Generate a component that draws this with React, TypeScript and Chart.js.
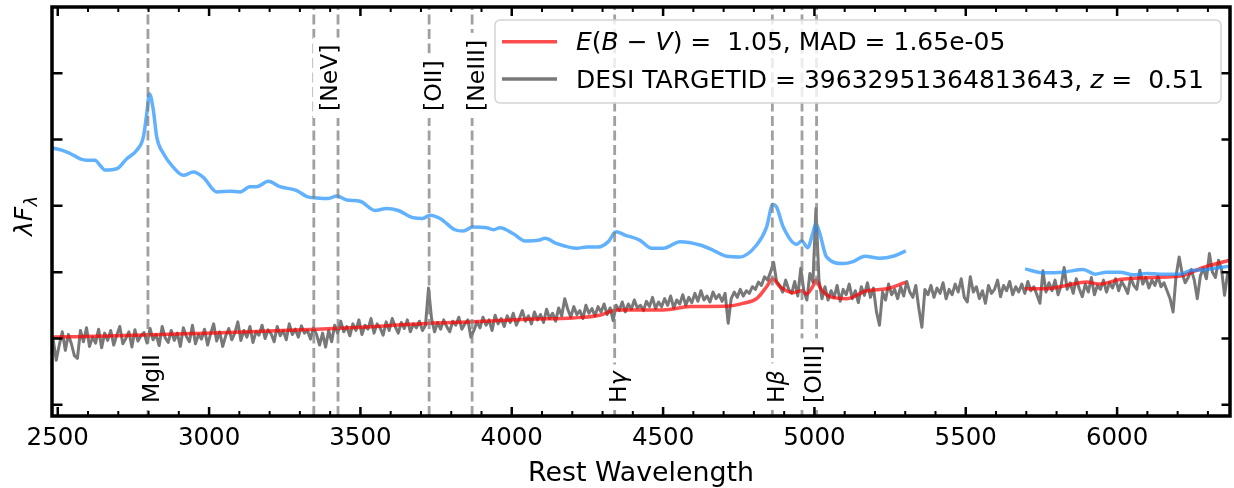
import React, { useEffect, useRef } from "react";
import { Chart, registerables } from "chart.js";

Chart.register(...registerables);

// ---------------- data ----------------
const X_MIN = 2481;
const X_MAX = 6373;
const Y_MIN = -0.17;
const Y_MAX = 6.0;

const X_MAJOR_TICKS = [2500, 3000, 3500, 4000, 4500, 5000, 5500, 6000];
const X_TICK_LABELS = ["2500", "3000", "3500", "4000", "4500", "5000", "5500", "6000"];
const X_MINOR_STEP = 100;
const Y_TICKS = [0, 1, 2, 3, 4, 5];

// emission lines (rest wavelength, Angstrom)
const LINE_WAVES = [2798, 3346, 3426, 3727, 3869, 4340, 4861, 4959, 5007];
const LABEL_WAVES = [2798, 3386, 3727, 3869, 4340, 4861, 4983];
const LABEL_SIDES = ["bottom", "top", "top", "top", "bottom", "bottom", "bottom"];
const LABEL_TEXTS: { t: string; it?: boolean }[][] = [
  [{ t: "MgII" }],
  [{ t: "[NeV]" }],
  [{ t: "[OII]" }],
  [{ t: "[NeIII]" }],
  [{ t: "H" }, { t: "γ", it: true }],
  [{ t: "H" }, { t: "β", it: true }],
  [{ t: "[OIII]" }],
];

// DESI spectrum (gray), regular 10 A grid
const GRAY_START = 2485;
const GRAY_STEP = 10;
const GRAY_FLUX = [
  0.98, 0.67, 0.90, 1.10, 0.82, 1.06, 0.92, 0.74, 0.70, 1.12,
  0.95, 1.16, 0.88, 1.02, 0.93, 1.14, 0.86, 1.08, 0.97, 1.12,
  0.90, 1.05, 1.18, 0.92, 1.00, 1.10, 0.87, 1.13, 0.96, 1.04,
  1.09, 0.93, 1.15, 0.98, 1.06, 0.89, 1.18, 1.01, 0.94, 1.12,
  0.97, 1.08, 0.88, 1.16, 1.03, 0.95, 1.20, 0.92, 1.06, 0.99,
  1.14, 0.90, 1.07, 1.22, 0.96, 1.10, 0.88, 1.04, 1.15, 0.98,
  1.08, 1.25, 0.97, 1.12, 1.02, 1.18, 0.94, 1.10, 1.05, 1.20,
  1.00, 1.13, 1.07, 0.95, 1.18, 1.04, 1.12, 0.98, 1.22, 1.06,
  1.14, 1.02, 1.19, 1.08, 1.12, 0.99, 1.16, 1.06, 0.90, 1.08,
  0.87, 1.12, 0.95, 1.20, 1.08, 1.26, 1.10, 1.18, 1.04, 1.22,
  1.12, 1.28, 1.06, 1.20, 1.14, 1.30, 1.08, 1.22, 1.16, 1.05,
  1.25, 1.12, 1.30, 1.18, 1.08, 1.24, 1.15, 1.28, 1.10, 1.22,
  1.16, 1.26, 1.12, 1.20, 1.76, 1.30, 1.10, 1.24, 1.14, 1.28,
  1.18, 1.10, 1.26, 1.20, 1.32, 1.14, 1.22, 1.28, 1.02, 1.12,
  1.25, 1.16, 1.32, 1.20, 1.28, 1.12, 1.35, 1.22, 1.30, 1.18,
  1.34, 1.24, 1.38, 1.20, 1.30, 1.42, 1.26, 1.34, 1.22, 1.40,
  1.28, 1.36, 1.24, 1.44, 1.30, 1.38, 1.26, 1.46, 1.34, 1.60,
  1.44, 1.32, 1.48, 1.36, 1.42, 1.30, 1.50, 1.38, 1.45, 1.34,
  1.48, 1.40, 1.52, 1.36, 1.46, 1.27, 1.50, 1.42, 1.55, 1.40,
  1.52, 1.44, 1.58, 1.46, 1.50, 1.42, 1.56, 1.48, 1.62, 1.45,
  1.55, 1.48, 1.60, 1.50, 1.64, 1.46, 1.58, 1.52, 1.66, 1.50,
  1.62, 1.54, 1.68, 1.56, 1.72, 1.58, 1.64, 1.55, 1.70, 1.60,
  1.66, 1.56, 1.68, 1.23, 1.60, 1.70, 1.62, 1.74, 1.64, 1.72,
  1.68, 1.78, 1.74, 1.85, 1.80, 1.93, 1.88, 2.00, 2.15, 1.86,
  1.80, 1.70, 1.88, 1.74, 1.68, 1.86, 1.64, 2.06, 1.72, 1.58,
  1.98, 1.85, 2.96, 1.88, 1.60, 1.78, 1.58, 1.72, 1.62, 1.80,
  1.56, 1.74, 1.66, 1.82, 1.60, 1.72, 1.54, 1.78, 1.65, 1.84,
  1.62, 1.76, 1.40, 1.20, 1.70, 1.58, 1.82, 1.66, 1.74, 1.60,
  1.78, 1.64, 1.86, 1.70, 1.62, 1.80, 1.45, 1.17, 1.74, 1.66,
  1.80, 1.62, 1.76, 1.68, 1.84, 1.60, 1.74, 1.66, 1.82, 1.70,
  1.90, 1.62, 1.55, 1.93, 1.70, 1.78, 1.60, 1.72, 1.53, 1.80,
  1.68, 1.74, 1.88, 1.63, 1.80, 1.72, 1.86, 1.66, 1.78, 1.70,
  1.82, 1.68, 1.86, 1.72, 1.78, 1.66, 1.53, 2.02, 1.70, 1.84,
  1.72, 1.88, 1.66, 1.80, 2.07, 1.74, 1.84, 1.68, 1.90, 1.75,
  1.63, 1.82, 1.70, 1.92, 1.66, 1.80, 1.74, 1.88, 1.70, 1.84,
  1.76, 1.90, 1.72, 1.86, 1.78, 1.68, 1.92, 1.80, 1.74, 2.03,
  1.82, 1.92, 1.76, 1.88, 1.80, 1.94, 1.78, 1.84, 1.72, 1.60,
  1.40, 1.95, 2.23, 1.98, 1.84, 1.92, 2.04, 1.88, 1.60, 1.94,
  2.06, 1.90, 2.28, 2.00, 1.92, 2.18, 2.04, 1.65, 1.98, 1.93,
];

// reddened model (red)
const RED_A: [number, number][] = [
  [2484, 1.02], [2695, 1.04], [2915, 1.07], [3135, 1.10], [3356, 1.14], [3466, 1.16],
  [3730, 1.23], [3873, 1.25], [4049, 1.29], [4203, 1.31], [4291, 1.35], [4347, 1.43],
  [4424, 1.43], [4501, 1.43], [4589, 1.48], [4721, 1.49], [4765, 1.53], [4809, 1.60],
  [4842, 1.78], [4862, 1.90], [4886, 1.78], [4930, 1.69], [4958, 1.72], [4974, 1.67],
  [4994, 1.78], [5005, 1.88], [5021, 1.75], [5051, 1.63], [5107, 1.60], [5173, 1.72],
  [5239, 1.75], [5302, 1.85],
];
const RED_B: [number, number][] = [
  [5696, 1.75], [5767, 1.75], [5833, 1.80], [5899, 1.85], [5943, 1.82], [6009, 1.89],
  [6119, 1.92], [6208, 1.94], [6285, 2.07], [6372, 2.18],
];

// intrinsic template (blue)
const BLUE_A: [number, number][] = [
  [2484, 3.87], [2513, 3.84], [2541, 3.79], [2574, 3.71], [2596, 3.69], [2623, 3.69],
  [2640, 3.61], [2656, 3.54], [2695, 3.56], [2728, 3.71], [2761, 3.84], [2783, 4.04],
  [2794, 4.39], [2803, 4.69], [2816, 4.44], [2827, 4.04], [2849, 3.79], [2882, 3.58],
  [2915, 3.46], [2948, 3.51], [2981, 3.43], [3025, 3.21], [3069, 3.22], [3102, 3.21],
  [3135, 3.29], [3157, 3.29], [3196, 3.37], [3234, 3.29], [3290, 3.23], [3323, 3.14],
  [3356, 3.12], [3394, 3.11], [3422, 3.15], [3455, 3.09], [3499, 3.07], [3548, 2.93],
  [3587, 2.96], [3625, 2.93], [3675, 2.82], [3706, 2.81], [3730, 2.86], [3763, 2.81],
  [3812, 2.64], [3840, 2.62], [3871, 2.68], [3917, 2.67], [3939, 2.64], [3961, 2.67],
  [4005, 2.58], [4044, 2.47], [4088, 2.48], [4110, 2.51], [4149, 2.43], [4215, 2.36],
  [4248, 2.38], [4286, 2.38], [4319, 2.46], [4344, 2.61], [4374, 2.56], [4424, 2.48],
  [4462, 2.36], [4501, 2.36], [4556, 2.46], [4622, 2.41], [4666, 2.33], [4710, 2.24],
  [4754, 2.23], [4809, 2.41], [4842, 2.68], [4862, 3.02], [4875, 2.98], [4897, 2.68],
  [4941, 2.42], [4958, 2.47], [4978, 2.37], [4994, 2.58], [5005, 2.73], [5018, 2.58],
  [5040, 2.23], [5095, 2.13], [5128, 2.16], [5167, 2.24], [5216, 2.21], [5260, 2.24],
  [5302, 2.32],
];
const BLUE_B: [number, number][] = [
  [5696, 2.05], [5756, 1.99], [5822, 2.00], [5888, 2.04], [5927, 1.97], [5966, 2.00],
  [6009, 2.00], [6053, 1.96], [6098, 1.98], [6141, 1.97], [6208, 1.97], [6241, 2.02],
  [6296, 2.04], [6340, 2.07], [6372, 2.09],
];

const LEGEND_ROW1: { t: string; it?: boolean }[] = [
  { t: "E", it: true }, { t: "(" }, { t: "B", it: true }, { t: " − " }, { t: "V", it: true },
  { t: ")" }, { t: " =  " }, { t: "1.05, MAD = 1.65e-05" },
];
const LEGEND_ROW2: { t: string; it?: boolean }[] = [
  { t: "DESI TARGETID = 39632951364813643, " }, { t: "z", it: true }, { t: " =  " }, { t: "0.51" },
];

// ---------------- styles ----------------
const FONT = '"DejaVu Sans", sans-serif';
const GRAY = "#787878";
const RED = "rgba(255,0,0,0.7)";
const BLUE = "rgba(30,144,255,0.7)";

function pairs(a: [number, number][]) {
  return a.map(([x, y]) => ({ x, y }));
}

function drawSegs(
  ctx: CanvasRenderingContext2D,
  segs: { t: string; it?: boolean }[],
  size: number,
  x: number,
  y: number,
  draw = true
) {
  let cx = x;
  for (const s of segs) {
    ctx.font = `${s.it ? "italic " : ""}${size}px ${FONT}`;
    if (draw) ctx.fillText(s.t, cx, y);
    cx += ctx.measureText(s.t).width;
  }
  return cx - x;
}

const overlay = {
  id: "overlay",
  afterDatasetsDraw(chart: any) {
    const { ctx, chartArea: a, scales } = chart;
    const xs = scales.x;
    // dashed emission lines
    ctx.save();
    ctx.strokeStyle = "rgba(128,128,128,0.75)";
    ctx.lineWidth = 2.8;
    ctx.setLineDash([10, 4.5]);
    for (const w of LINE_WAVES) {
      const px = xs.getPixelForValue(w);
      ctx.beginPath();
      ctx.moveTo(px, a.bottom);
      ctx.lineTo(px, a.top);
      ctx.stroke();
    }
    ctx.restore();

    // line labels
    const fs = 23.5;
    LABEL_WAVES.forEach((w, i) => {
      const px = xs.getPixelForValue(w);
      const bx = px + 11.5;
      const by = LABEL_SIDES[i] === "top" ? a.top + 104 : a.bottom - 13;
      ctx.save();
      ctx.translate(bx, by);
      ctx.rotate(-Math.PI / 2);
      ctx.textBaseline = "alphabetic";
      ctx.textAlign = "left";
      const wdt = drawSegs(ctx, LABEL_TEXTS[i], fs, 0, 0, false);
      const asc = 0.78 * fs;
      const desc = 0.2 * fs;
      ctx.fillStyle = "#ffffff";
      ctx.fillRect(-7, -asc - 6, wdt + 14, asc + desc + 12);
      ctx.fillStyle = "#000000";
      drawSegs(ctx, LABEL_TEXTS[i], fs, 0, 0, true);
      ctx.restore();
    });

    // legend
    ctx.save();
    const lx = 495, ly = 20, lw = 726, lh = 83, r = 5;
    ctx.beginPath();
    ctx.moveTo(lx + r, ly);
    ctx.lineTo(lx + lw - r, ly);
    ctx.arcTo(lx + lw, ly, lx + lw, ly + r, r);
    ctx.lineTo(lx + lw, ly + lh - r);
    ctx.arcTo(lx + lw, ly + lh, lx + lw - r, ly + lh, r);
    ctx.lineTo(lx + r, ly + lh);
    ctx.arcTo(lx, ly + lh, lx, ly + lh - r, r);
    ctx.lineTo(lx, ly + r);
    ctx.arcTo(lx, ly, lx + r, ly, r);
    ctx.closePath();
    ctx.fillStyle = "rgba(255,255,255,0.8)";
    ctx.fill();
    ctx.strokeStyle = "#d4d4d4";
    ctx.lineWidth = 1.5;
    ctx.stroke();
    ctx.lineWidth = 3.5;
    ctx.strokeStyle = RED;
    ctx.beginPath();
    ctx.moveTo(502, 41.7);
    ctx.lineTo(557, 41.7);
    ctx.stroke();
    ctx.strokeStyle = GRAY;
    ctx.beginPath();
    ctx.moveTo(502, 79);
    ctx.lineTo(557, 79);
    ctx.stroke();
    ctx.fillStyle = "#000000";
    ctx.textBaseline = "alphabetic";
    ctx.textAlign = "left";
    drawSegs(ctx, LEGEND_ROW1, 25, 576, 49.5);
    drawSegs(ctx, LEGEND_ROW2, 25, 576, 87.5);
    ctx.restore();
  },
  afterDraw(chart: any) {
    const { ctx, chartArea: a, scales } = chart;
    const xs = scales.x;
    const ys = scales.y;
    ctx.save();
    ctx.strokeStyle = "#000000";
    ctx.setLineDash([]);
    // ticks
    ctx.lineWidth = 2.5;
    for (const t of X_MAJOR_TICKS) {
      const px = xs.getPixelForValue(t);
      ctx.beginPath();
      ctx.moveTo(px, a.bottom);
      ctx.lineTo(px, a.bottom - 9);
      ctx.moveTo(px, a.top);
      ctx.lineTo(px, a.top + 9);
      ctx.stroke();
    }
    ctx.lineWidth = 2;
    for (let t = 2500; t <= X_MAX; t += X_MINOR_STEP) {
      if (X_MAJOR_TICKS.includes(t)) continue;
      const px = xs.getPixelForValue(t);
      ctx.beginPath();
      ctx.moveTo(px, a.bottom);
      ctx.lineTo(px, a.bottom - 5);
      ctx.moveTo(px, a.top);
      ctx.lineTo(px, a.top + 5);
      ctx.stroke();
    }
    ctx.lineWidth = 2.5;
    for (const t of Y_TICKS) {
      const py = ys.getPixelForValue(t);
      ctx.beginPath();
      ctx.moveTo(a.left, py);
      ctx.lineTo(a.left + 10.5, py);
      ctx.moveTo(a.right, py);
      ctx.lineTo(a.right - 8.5, py);
      ctx.stroke();
    }
    // frame
    ctx.lineWidth = 3.5;
    ctx.strokeRect(a.left, a.top, a.right - a.left, a.bottom - a.top);

    // tick labels
    ctx.fillStyle = "#000000";
    ctx.font = `24.5px ${FONT}`;
    ctx.textAlign = "center";
    ctx.textBaseline = "alphabetic";
    X_MAJOR_TICKS.forEach((t, i) => {
      ctx.fillText(X_TICK_LABELS[i], xs.getPixelForValue(t), a.bottom + 29);
    });
    // x title
    ctx.font = `26.8px ${FONT}`;
    ctx.fillText("Rest Wavelength", (a.left + a.right) / 2, a.bottom + 65);

    // y title  λF_λ
    ctx.translate(32, 236);
    ctx.rotate(-Math.PI / 2);
    ctx.textAlign = "left";
    const w1 = drawSegs(ctx, [{ t: "λ", it: true }, { t: "F", it: true }], 25, 0, 0);
    ctx.font = `italic 17.5px ${FONT}`;
    ctx.fillText("λ", w1 + 0.5, 5);
    ctx.restore();
  },
};

export default function App() {
  const ref = useRef<HTMLCanvasElement | null>(null);
  useEffect(() => {
    if (!ref.current) return;
    const gray = GRAY_FLUX.map((v, i) => ({ x: GRAY_START + i * GRAY_STEP, y: v }));
    const red = [...pairs(RED_A), { x: 5500, y: null as any }, ...pairs(RED_B)];
    const blue = [...pairs(BLUE_A), { x: 5500, y: null as any }, ...pairs(BLUE_B)];
    const chart = new Chart(ref.current, {
      type: "line",
      data: {
        datasets: [
          {
            label: "template",
            data: blue,
            borderColor: BLUE,
            borderWidth: 3.5,
            pointRadius: 0,
            spanGaps: false,
            cubicInterpolationMode: "monotone",
            borderJoinStyle: "round",
            order: 1,
          },
          {
            label: "E(B-V) = 1.05, MAD = 1.65e-05",
            data: red,
            borderColor: RED,
            borderWidth: 3.5,
            pointRadius: 0,
            spanGaps: false,
            cubicInterpolationMode: "monotone",
            borderJoinStyle: "round",
            order: 2,
          },
          {
            label: "DESI TARGETID = 39632951364813643, z = 0.51",
            data: gray,
            borderColor: GRAY,
            borderWidth: 3,
            pointRadius: 0,
            borderJoinStyle: "round",
            order: 3,
          },
        ],
      } as any,
      options: {
        responsive: false,
        animation: false,
        devicePixelRatio: 1,
        events: [],
        layout: { padding: { left: 52, right: 4, top: 7, bottom: 72 } },
        scales: {
          x: { type: "linear", min: X_MIN, max: X_MAX, display: false },
          y: { type: "linear", min: Y_MIN, max: Y_MAX, display: false },
        },
        plugins: { legend: { display: false }, tooltip: { enabled: false } },
      } as any,
      plugins: [overlay],
    });
    return () => chart.destroy();
  }, []);
  return (
    <div style={{ position: "absolute", left: 0, top: 0, width: 1234, height: 488, background: "#fff" }}>
      <canvas ref={ref} width={1234} height={488} style={{ display: "block" }} />
    </div>
  );
}
